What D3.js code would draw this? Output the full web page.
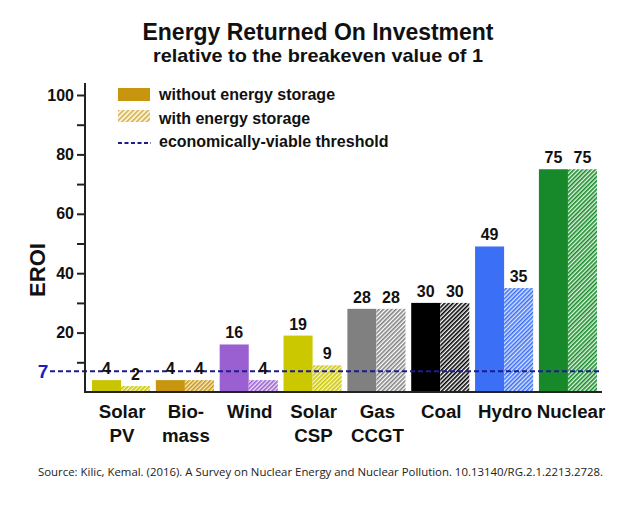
<!DOCTYPE html>
<html><head><meta charset="utf-8">
<script src="https://cdn.jsdelivr.net/npm/d3@7"></script>
<style>body{margin:0;background:#fff}svg{display:block}</style>
</head><body><svg id="c" width="625" height="509"></svg>
<script>
const categories = ["Solar PV","Biomass","Wind","Solar CSP","Gas CCGT","Coal","Hydro","Nuclear"];
const categoryLines = [["Solar","PV"],["Bio-","mass"],["Wind"],["Solar","CSP"],["Gas","CCGT"],["Coal"],["Hydro"],["Nuclear"]];
const withoutStorage = [4,4,16,19,28,30,49,75];
const withStorage = [2,4,4,9,28,30,35,75];
const threshold = 7;
const yTicks = [10,20,30,40,50,60,70,80,90,100];
const yLabels = [20,40,60,80,100];
const colors = ["#c9c402","#c8960e","#9a5fd0","#cbc800","#808080","#000000","#3b6ff5","#17892a"];
const lightColors = ["#faf6c8","#f8ecd0","#efe2f8","#faf6c8","#ffffff","#ffffff","#dce6ff","#e2f6e2"];

const svg = d3.select("#c");
const font = "'Liberation Sans', Arial, sans-serif";
const y = d3.scaleLinear().domain([0,100]).range([392,95]);
const x = d3.scaleBand().domain(categories).range([92,597]).paddingInner(0.09).paddingOuter(0);
const xs = d3.scaleBand().domain(["without","with"]).range([0,x.bandwidth()]).padding(0);

const defs = svg.append("defs");
colors.forEach((c,i)=>{
  const p = defs.append("pattern").attr("id","h"+i).attr("patternUnits","userSpaceOnUse")
    .attr("width",3).attr("height",3).attr("patternTransform","rotate(45)");
  p.append("rect").attr("width",3).attr("height",3).attr("fill",lightColors[i]);
  p.append("line").attr("x1",0.8).attr("y1",0).attr("x2",0.8).attr("y2",3).attr("stroke",c).attr("stroke-width",1.6);
});
const lp = defs.append("pattern").attr("id","hl").attr("patternUnits","userSpaceOnUse")
    .attr("width",3.5).attr("height",3.5).attr("patternTransform","rotate(45)");
lp.append("rect").attr("width",3.5).attr("height",3.5).attr("fill","#fbf3d8");
lp.append("line").attr("x1",0.8).attr("y1",0).attr("x2",0.8).attr("y2",3.5).attr("stroke","#d4b04a").attr("stroke-width",1.5);

// title
svg.append("text").attr("x",318).attr("y",40).attr("text-anchor","middle")
  .attr("font-family",font).attr("font-weight","bold").attr("font-size",23).attr("fill","#111")
  .attr("textLength",351).attr("lengthAdjust","spacingAndGlyphs")
  .text("Energy Returned On Investment");
svg.append("text").attr("x",318).attr("y",62).attr("text-anchor","middle")
  .attr("font-family",font).attr("font-weight","bold").attr("font-size",19).attr("fill","#111")
  .attr("textLength",330).attr("lengthAdjust","spacingAndGlyphs")
  .text("relative to the breakeven value of 1");

// bars
const g = svg.append("g");
categories.forEach((c,i)=>{
  const x0 = x(c);
  g.append("rect").attr("x",x0+xs("without")).attr("y",y(withoutStorage[i]))
    .attr("width",xs.bandwidth()).attr("height",y(0)-y(withoutStorage[i])).attr("fill",colors[i]);
  g.append("rect").attr("x",x0+xs("with")).attr("y",y(withStorage[i]))
    .attr("width",xs.bandwidth()).attr("height",y(0)-y(withStorage[i])).attr("fill","url(#h"+i+")");
});

// threshold
svg.append("line").attr("x1",50).attr("x2",601).attr("y1",y(threshold)).attr("y2",y(threshold))
  .attr("stroke","#1c1c8e").attr("stroke-width",2).attr("stroke-dasharray","5,3");
svg.append("text").attr("x",43).attr("y",y(threshold)+7).attr("text-anchor","middle")
  .attr("font-family",font).attr("font-weight","bold").attr("font-size",19).attr("fill","#1c1cc0")
  .text(threshold);

// value labels
categories.forEach((c,i)=>{
  const x0 = x(c);
  [["without",withoutStorage[i]],["with",withStorage[i]]].forEach(([k,v])=>{
    svg.append("text").attr("x",x0+xs(k)+xs.bandwidth()/2).attr("y",y(v)-6).attr("text-anchor","middle")
      .attr("font-family",font).attr("font-weight","bold").attr("font-size",16).attr("fill","#111")
      .text(v);
  });
});

// axes
const ax = svg.append("g").attr("transform","translate(85,0)")
  .call(d3.axisLeft(y).tickValues(yTicks).tickSize(8).tickPadding(3)
    .tickFormat(d=>yLabels.includes(d)?d:""));
ax.select(".domain").remove();
ax.selectAll(".tick line").attr("stroke","#222").attr("stroke-width",2);
ax.selectAll(".tick text").attr("font-family",font).attr("font-weight","bold").attr("font-size",16).attr("fill","#111");
svg.append("line").attr("x1",85).attr("x2",85).attr("y1",y(0)+1).attr("y2",y(104)).attr("stroke","#222").attr("stroke-width",2);
svg.append("line").attr("x1",84).attr("x2",602).attr("y1",y(0)).attr("y2",y(0)).attr("stroke","#222").attr("stroke-width",2);

svg.append("text").attr("transform","translate(45,270) rotate(-90)").attr("text-anchor","middle")
  .attr("font-family",font).attr("font-weight","bold").attr("font-size",22).attr("fill","#111").text("EROI");

// category labels
categories.forEach((c,i)=>{
  const cx = x(c)+x.bandwidth()/2 + (i===categories.length-1 ? 3 : 1);
  const t = svg.append("text").attr("text-anchor","middle")
    .attr("font-family",font).attr("font-weight","bold").attr("font-size",18.7).attr("fill","#111");
  categoryLines[i].forEach((l,j)=>{
    t.append("tspan").attr("x",cx).attr("y",418+j*24).text(l);
  });
});

// legend
const lg = svg.append("g");
lg.append("rect").attr("x",118).attr("y",88).attr("width",32).attr("height",13).attr("fill","#c8960e");
lg.append("rect").attr("x",118).attr("y",110).attr("width",32).attr("height",12).attr("fill","url(#hl)");
lg.append("line").attr("x1",118).attr("x2",151).attr("y1",143).attr("y2",143).attr("stroke","#1c1c8e")
  .attr("stroke-width",2).attr("stroke-dasharray","4,2.5");
const legendTexts = ["without energy storage","with energy storage","economically-viable threshold"];
legendTexts.forEach((t,i)=>{
  lg.append("text").attr("x",159).attr("y",100+i*23.5).attr("font-family",font).attr("font-weight","bold")
    .attr("font-size",16).attr("fill","#111").text(t);
});

// source
svg.append("text").attr("x",38).attr("y",476).attr("font-family","'Open Sans', sans-serif")
  .attr("font-size",11).attr("fill","#222").attr("textLength",565).attr("lengthAdjust","spacingAndGlyphs")
  .text("Source:  Kilic, Kemal. (2016). A Survey on Nuclear Energy and Nuclear Pollution. 10.13140/RG.2.1.2213.2728.");
</script></body></html>
